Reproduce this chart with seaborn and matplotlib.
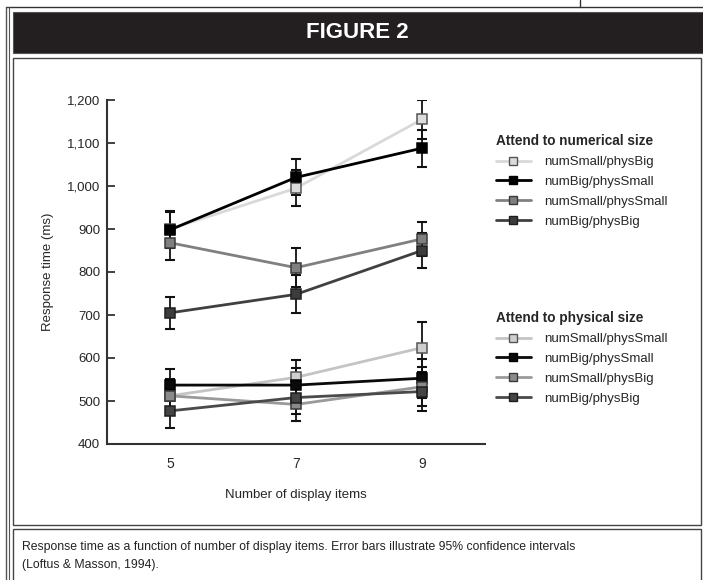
import numpy as np
import pandas as pd
import matplotlib
matplotlib.use('Agg')
import matplotlib.pyplot as plt
from matplotlib.lines import Line2D
from matplotlib.patches import Rectangle
from matplotlib.ticker import FuncFormatter
import seaborn as sns

sns.set_theme(style="white")
plt.rcParams['font.family'] = ['Liberation Sans', 'DejaVu Sans']

# Data
items = [5, 7, 9]

num_labels = ['numSmall/physBig', 'numBig/physSmall', 'numSmall/physSmall', 'numBig/physBig']
num_means = [[900, 995, 1155], [898, 1020, 1088], [868, 810, 877], [705, 748, 850]]
num_ci = [[42, 42, 45], [42, 42, 43], [40, 45, 40], [38, 44, 40]]

phys_labels = ['numSmall/physSmall', 'numBig/physSmall', 'numSmall/physBig', 'numBig/physBig']
phys_means = [[512, 555, 624], [537, 537, 553], [512, 492, 533], [477, 508, 522]]
phys_ci = [[40, 40, 60], [37, 40, 45], [38, 38, 45], [39, 38, 45]]

# styles: (line color, marker face, marker edge)
num_styles = [('#d9d9d9', '#dcdcdc', '#555555'),
              ('#000000', '#000000', '#000000'),
              ('#808080', '#7f7f7f', '#3a3a3a'),
              ('#404040', '#3c3c3c', '#1e1e1e')]
phys_styles = [('#c4c4c4', '#cfcfcf', '#555555'),
               ('#0a0a0a', '#0a0a0a', '#000000'),
               ('#9a9a9a', '#8a8a8a', '#3a3a3a'),
               ('#4a4a4a', '#444444', '#1e1e1e')]

W, H = 703, 580
fig = plt.figure(figsize=(W / 100, H / 100), dpi=100)

def px_rect(x0, y0, x1, y1, **kw):
    fig.patches.append(Rectangle((x0 / W, 1 - y1 / H), (x1 - x0) / W, (y1 - y0) / H,
                                 transform=fig.transFigure, figure=fig, **kw))

def px_line(xs, ys, **kw):
    fig.add_artist(Line2D([x / W for x in xs], [1 - y / H for y in ys],
                          transform=fig.transFigure, **kw))

# page frame bits
px_line([6, 703], [7, 7], color='#333333', lw=1)
px_line([580, 580], [0, 7], color='#333333', lw=1)
px_line([6, 6], [7, 580], color='#555555', lw=1)
px_line([9, 9], [7, 580], color='#555555', lw=0.8)
px_rect(13, 12, 703, 53, facecolor='#231f20', edgecolor='#555555', lw=0.8)
fig.text(357 / W, 1 - 33 / H, 'FIGURE 2', color='white', fontsize=16, fontweight='bold',
         ha='center', va='center')
px_rect(13, 58, 701, 525, facecolor='none', edgecolor='#444444', lw=1)
px_rect(13, 529, 701, 590, facecolor='none', edgecolor='#444444', lw=1)
fig.text(22 / W, 1 - 556 / H,
         'Response time as a function of number of display items. Error bars illustrate 95% confidence intervals\n(Loftus & Masson, 1994).',
         fontsize=8.8, ha='left', va='center', linespacing=1.6, color='#222222')

ax = fig.add_axes([107 / W, 1 - 444 / H, 378 / W, 344 / H])
ax.set_facecolor('none')

xpos = np.arange(len(items))

def draw_group(means, cis, styles):
    for m, c, (lc, mf, me) in zip(means, cis, styles):
        df = pd.DataFrame({'x': xpos, 'rt': m})
        sns.lineplot(data=df, x='x', y='rt', ax=ax, color=lc, lw=2.0, marker='s',
                     markersize=6.5, markerfacecolor=mf, markeredgecolor=me,
                     markeredgewidth=1.1, zorder=3)
        ax.errorbar(xpos, m, yerr=c, fmt='none', ecolor='#111111', elinewidth=1.3,
                    capsize=3.3, capthick=1.5, zorder=2)

draw_group(num_means, num_ci, num_styles)
draw_group(phys_means, phys_ci, phys_styles)

ax.set_xlim(-0.5, 2.5)
ax.set_ylim(400, 1200)
ax.set_yticks(np.arange(400, 1201, 100))
ax.yaxis.set_major_formatter(FuncFormatter(lambda v, p: f'{int(v):,}'))
ax.set_xticks([0.5, 1.5, 2.5])
ax.set_xticklabels([])
ax.set_xticks(xpos, minor=True)
ax.set_xticklabels([str(i) for i in items], minor=True)
ax.tick_params(axis='x', which='major', direction='in', length=7, width=1.3, color='#333333')
ax.tick_params(axis='x', which='minor', length=0, pad=9, labelsize=10)
ax.tick_params(axis='y', direction='in', length=6, width=1.3, color='#333333',
               labelsize=9.5, left=True, pad=5)
for s in ['top', 'right']:
    ax.spines[s].set_visible(False)
for s in ['left', 'bottom']:
    ax.spines[s].set_color('#333333')
    ax.spines[s].set_linewidth(1.5)
ax.set_xlabel('Number of display items', fontsize=9.5, labelpad=13)
ax.set_ylabel('Response time (ms)', fontsize=9.5, labelpad=9)
ax.grid(False)

def handles(styles):
    return [Line2D([], [], color=lc, lw=2.0, marker='s', markersize=6,
                   markerfacecolor=mf, markeredgecolor=me, markeredgewidth=1.0)
            for lc, mf, me in styles]

leg_kw = dict(loc='upper left', bbox_transform=fig.transFigure, frameon=False, fontsize=9.5,
              title_fontproperties={'weight': 'bold', 'size': 9.8}, handlelength=2.6,
              handletextpad=1.0, labelspacing=0.58, alignment='left', borderaxespad=0)
leg1 = ax.legend(handles(num_styles), num_labels, title='Attend to numerical size',
                 bbox_to_anchor=(491 / W, 1 - 129 / H), **leg_kw)
ax.add_artist(leg1)
ax.legend(handles(phys_styles), phys_labels, title='Attend to physical size',
          bbox_to_anchor=(491 / W, 1 - 306 / H), **leg_kw)

fig.savefig('out.png', dpi=100)
